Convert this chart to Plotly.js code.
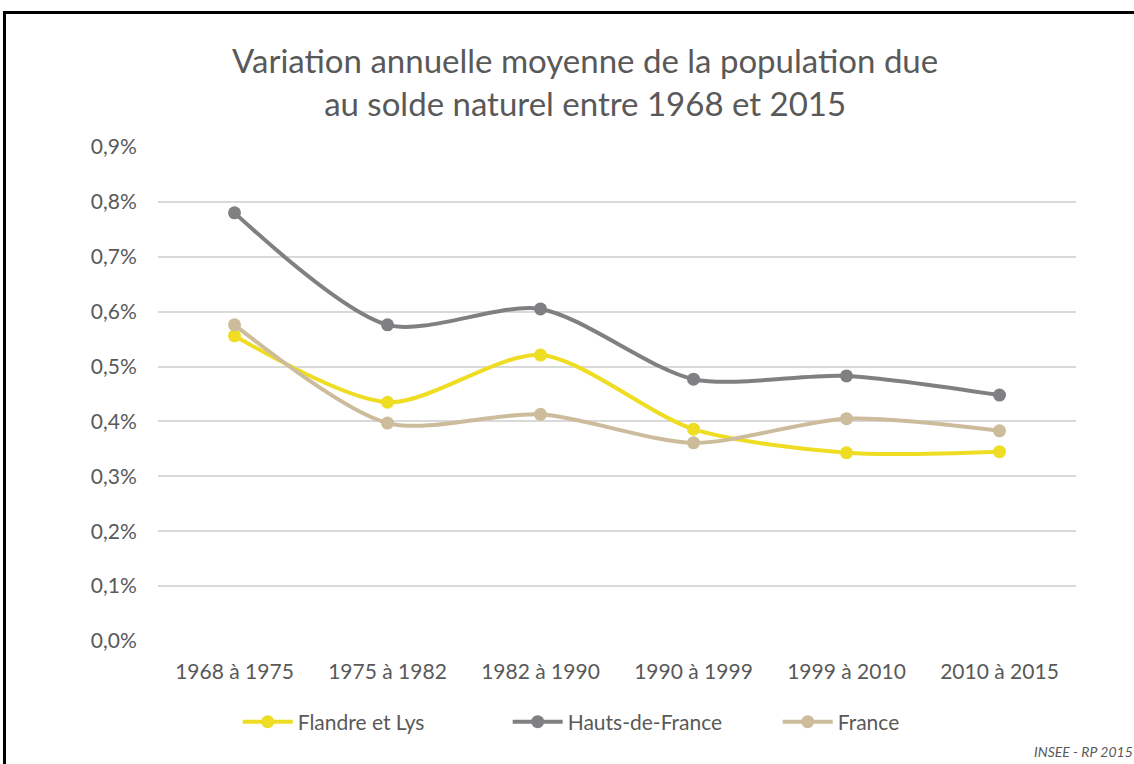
<!DOCTYPE html>
<html><head><meta charset="utf-8">
<script src="https://cdn.plot.ly/plotly-3.0.1.min.js"></script>
<style>
html,body{margin:0;padding:0;background:#fff;}
#wrap{position:relative;width:1134px;height:764px;overflow:hidden;}
#chart{position:absolute;left:0;top:0;width:1134px;height:764px;}
#frame{position:absolute;left:3px;top:11px;width:1140px;height:800px;border-top:3px solid #000;border-left:3px solid #000;pointer-events:none;}
</style></head>
<body><div id="wrap"><div id="chart"></div><div id="frame"></div></div>
<script>
const categories = ["1968 à 1975","1975 à 1982","1982 à 1990","1990 à 1999","1999 à 2010","2010 à 2015"];
const flandreEtLys = [0.556,0.435,0.521,0.386,0.343,0.345];
const hautsDeFrance = [0.780,0.576,0.605,0.477,0.483,0.448];
const france = [0.576,0.397,0.413,0.361,0.405,0.383];
const yTickVals = [0,0.1,0.2,0.3,0.4,0.5,0.6,0.7,0.8,0.9];
const yTickText = ["0,0%","0,1%","0,2%","0,3%","0,4%","0,5%","0,6%","0,7%","0,8%","0,9%"];

const FONT = "Lato, 'Noto Sans', sans-serif";
function tr(name, y, color){
  return {x: categories, y: y, name: name, type: 'scatter', mode: 'lines+markers',
    line: {color: color, width: 4, shape: 'spline', smoothing: 0.8},
    marker: {color: color, size: 13}, hoverinfo: 'skip'};
}
const data = [
  tr('Flandre et Lys', flandreEtLys, '#EEDD22'),
  tr('Hauts-de-France', hautsDeFrance, '#808083'),
  tr('France', france, '#CDBC9C')
];
const layout = {
  width: 1134, height: 764,
  margin: {l: 158, r: 58, t: 147, b: 123, autoexpand: false},
  paper_bgcolor: '#fff', plot_bgcolor: '#fff',
  font: {family: FONT, color: '#595959', size: 20},
  title: {text: 'Variation annuelle moyenne de la population due<br>au solde naturel entre 1968 et 2015',
    font: {family: FONT, size: 33, color: '#595959'}, x: 0.516, xanchor: 'center',
    yref: 'container', y: 0.904, yanchor: 'top'},
  xaxis: {type: 'category', range: [-0.5, 5.5], showgrid: false, zeroline: false, showline: false,
    ticks: 'outside', ticklen: 12, tickcolor: 'rgba(0,0,0,0)', tickfont: {size: 21, color: '#595959'}, fixedrange: true},
  yaxis: {range: [0, 0.9], tickvals: yTickVals, ticktext: yTickText, showgrid: true,
    gridcolor: '#D9D9D9', gridwidth: 2, zeroline: false, showline: false, ticks: 'outside', ticklen: 16,
    tickcolor: 'rgba(0,0,0,0)', tickfont: {size: 21, color: '#595959'}, fixedrange: true},
  showlegend: true,
  legend: {orientation: 'h', x: 0.528, xanchor: 'center', yref: 'container', y: 0.055, yanchor: 'middle',
    font: {size: 21, color: '#595959'}, entrywidth: 205, itemwidth: 50},
  annotations: [{text: '<i>INSEE - RP 2015</i>', xref: 'paper', yref: 'paper', x: 1.064, y: -0.245, xanchor: 'right', yanchor: 'bottom',
    showarrow: false, font: {size: 14, color: '#595959'}}]
};
Plotly.newPlot('chart', data, layout, {staticPlot: true, displayModeBar: false});
</script></body></html>
